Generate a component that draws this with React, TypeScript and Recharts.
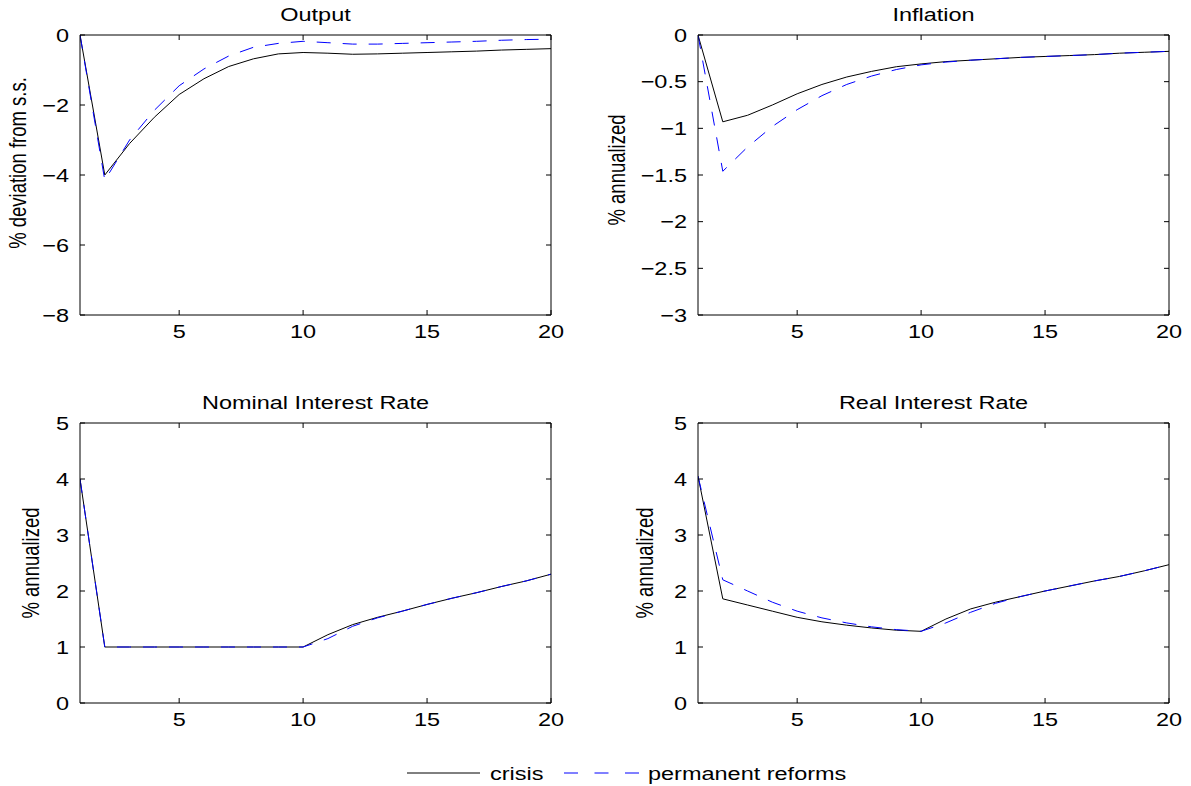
import React from 'react';
import { LineChart, Line, XAxis, YAxis } from 'recharts';

const periods = [1, 2, 3, 4, 5, 6, 7, 8, 9, 10, 11, 12, 13, 14, 15, 16, 17, 18, 19, 20];
const xTicks = [5, 10, 15, 20];

const outputCrisis = [0, -4.0, -3.1, -2.35, -1.7, -1.25, -0.9, -0.68, -0.54, -0.5, -0.52, -0.55, -0.54, -0.52, -0.5, -0.48, -0.46, -0.43, -0.41, -0.39];
const outputReform = [0, -4.15, -3.0, -2.15, -1.45, -0.97, -0.6, -0.35, -0.24, -0.18, -0.22, -0.26, -0.26, -0.24, -0.22, -0.2, -0.18, -0.15, -0.13, -0.12];
const outputTicks = [-8, -6, -4, -2, 0];

const inflationCrisis = [0, -0.93, -0.86, -0.75, -0.63, -0.53, -0.45, -0.39, -0.34, -0.31, -0.285, -0.27, -0.255, -0.24, -0.23, -0.22, -0.21, -0.195, -0.185, -0.175];
const inflationReform = [0, -1.46, -1.2, -0.98, -0.8, -0.65, -0.53, -0.44, -0.37, -0.32, -0.29, -0.27, -0.255, -0.24, -0.23, -0.22, -0.21, -0.195, -0.185, -0.175];
const inflationTicks = [-3, -2.5, -2, -1.5, -1, -0.5, 0];

const nominalCrisis = [4, 1, 1, 1, 1, 1, 1, 1, 1, 1, 1.22, 1.4, 1.53, 1.64, 1.76, 1.87, 1.97, 2.08, 2.18, 2.3];
const nominalReform = [4, 1, 1, 1, 1, 1, 1, 1, 1, 1, 1.15, 1.37, 1.52, 1.64, 1.76, 1.87, 1.97, 2.08, 2.18, 2.3];
const realCrisis = [4.05, 1.86, 1.75, 1.64, 1.53, 1.45, 1.39, 1.34, 1.3, 1.28, 1.5, 1.68, 1.8, 1.9, 2.0, 2.09, 2.18, 2.26, 2.36, 2.47];
const realReform = [4.05, 2.2, 2.0, 1.8, 1.64, 1.52, 1.43, 1.36, 1.31, 1.28, 1.43, 1.62, 1.78, 1.9, 2.0, 2.09, 2.18, 2.26, 2.36, 2.47];
const rateTicks = [0, 1, 2, 3, 4, 5];

const FONT = '"Liberation Sans", Arial, Helvetica, sans-serif';
const FS = 18.5;
const SX = 1.27; // the figure is stretched sideways, so is the text

const fmt = (v: number) => (v < 0 ? '\u2212' : '') + Math.abs(v);

const Txt = ({ x, y, anchor = 'start', rotate = false, children }: any) => (
  <text
    transform={`translate(${x},${y}) scale(${SX},1)${rotate ? ' rotate(-90)' : ''}`}
    textAnchor={anchor}
    fontFamily={FONT}
    fontSize={FS}
    fill="#000"
  >
    {children}
  </text>
);

const XTick = ({ x, y, payload }: any) => (
  <Txt x={x} y={y + 23} anchor="middle">{fmt(payload.value)}</Txt>
);

const YTick = ({ x, y, payload }: any) => (
  <Txt x={x - 11} y={y + 6.5} anchor="end">{fmt(payload.value)}</Txt>
);

const NoTick = () => <g />;

interface PanelProps {
  left: number;
  top: number;
  width: number;
  height: number;
  plot: [number, number, number, number]; // x0, y0, x1, y1 in page coords
  title: string;
  ylabel: string;
  labelGap: number;
  labelShift: number;
  yTicks: number[];
  crisis: number[];
  reform: number[];
}

const Panel = ({ left, top, width, height, plot, title, ylabel, labelGap, labelShift, yTicks, crisis, reform }: PanelProps) => {
  const rows = periods.map((t, i) => ({ t, crisis: crisis[i], reform: reform[i] }));
  const [x0, y0, x1, y1] = plot;
  const yAxisW = x0 - left;
  const xAxisH = top + height - y1;
  const domain = [yTicks[0], yTicks[yTicks.length - 1]];

  const titleLabel = (p: any) => {
    const vb = p.viewBox;
    return <Txt x={vb.x + vb.width / 2} y={vb.y + vb.height - 14} anchor="middle">{title}</Txt>;
  };
  const yLabel = (p: any) => {
    const vb = p.viewBox;
    return (
      <Txt x={vb.x + vb.width - labelGap + 6.5} y={vb.y + vb.height / 2 + labelShift} anchor="middle" rotate>
        {ylabel}
      </Txt>
    );
  };

  return (
    <div style={{ position: 'absolute', left, top, width, height }}>
      <LineChart
        width={width}
        height={height}
        data={rows}
        margin={{ top: y0 - top - 1, left: 0, right: left + width - x1 - 1, bottom: 0 }}
      >
        <XAxis
          xAxisId="b"
          dataKey="t"
          type="number"
          domain={[1, 20]}
          ticks={xTicks}
          interval={0}
          allowDataOverflow
          height={xAxisH}
          tickSize={-5}
          tickMargin={5}
          tick={XTick}
          stroke="#000"
          tickLine={{ stroke: '#000' }}
        />
        <XAxis
          xAxisId="t"
          orientation="top"
          dataKey="t"
          type="number"
          domain={[1, 20]}
          ticks={xTicks}
          interval={0}
          allowDataOverflow
          height={1}
          tickSize={-5}
          tick={NoTick}
          stroke="#000"
          tickLine={{ stroke: '#000' }}
          label={titleLabel}
        />
        <YAxis
          yAxisId="l"
          type="number"
          domain={domain}
          ticks={yTicks}
          interval={0}
          allowDataOverflow
          width={yAxisW}
          tickSize={-5}
          tickMargin={5}
          tick={YTick}
          stroke="#000"
          tickLine={{ stroke: '#000' }}
          label={yLabel}
        />
        <YAxis
          yAxisId="r"
          orientation="right"
          type="number"
          domain={domain}
          ticks={yTicks}
          interval={0}
          allowDataOverflow
          width={1}
          tickSize={-5}
          tick={NoTick}
          stroke="#000"
          tickLine={{ stroke: '#000' }}
        />
        <Line
          xAxisId="b"
          yAxisId="l"
          type="linear"
          dataKey="crisis"
          stroke="#000"
          strokeWidth={1}
          dot={false}
          isAnimationActive={false}
        />
        <Line
          xAxisId="t"
          yAxisId="r"
          type="linear"
          dataKey="reform"
          stroke="#0000ff"
          strokeWidth={1}
          strokeDasharray="14 12"
          dot={false}
          isAnimationActive={false}
        />
      </LineChart>
    </div>
  );
};

const Legend = () => (
  <svg style={{ position: 'absolute', left: 0, top: 750 }} width={1191} height={40}>
    <line x1={407} x2={480} y1={23} y2={23} stroke="#000" strokeWidth={1} />
    <Txt x={490} y={29.5}>crisis</Txt>
    <line x1={564} x2={639} y1={23} y2={23} stroke="#0000ff" strokeWidth={1} strokeDasharray="14 16.5" />
    <Txt x={648} y={29.5}>permanent reforms</Txt>
  </svg>
);

export default function App() {
  return (
    <div style={{ position: 'absolute', left: 0, top: 0, width: 1191, height: 786, background: '#fff' }}>
      <Panel
        left={0} top={0} width={600} height={360}
        plot={[80, 35, 551, 315]}
        title="Output" ylabel="% deviation from s.s." labelGap={61} labelShift={-12}
        yTicks={outputTicks} crisis={outputCrisis} reform={outputReform}
      />
      <Panel
        left={600} top={0} width={591} height={360}
        plot={[698, 35, 1169, 315]}
        title="Inflation" ylabel="% annualized" labelGap={80} labelShift={-5}
        yTicks={inflationTicks} crisis={inflationCrisis} reform={inflationReform}
      />
      <Panel
        left={0} top={380} width={600} height={360}
        plot={[80, 423, 551, 703]}
        title="Nominal Interest Rate" ylabel="% annualized" labelGap={48} labelShift={0}
        yTicks={rateTicks} crisis={nominalCrisis} reform={nominalReform}
      />
      <Panel
        left={600} top={380} width={591} height={360}
        plot={[698, 423, 1169, 703]}
        title="Real Interest Rate" ylabel="% annualized" labelGap={52} labelShift={0}
        yTicks={rateTicks} crisis={realCrisis} reform={realReform}
      />
      <Legend />
    </div>
  );
}
